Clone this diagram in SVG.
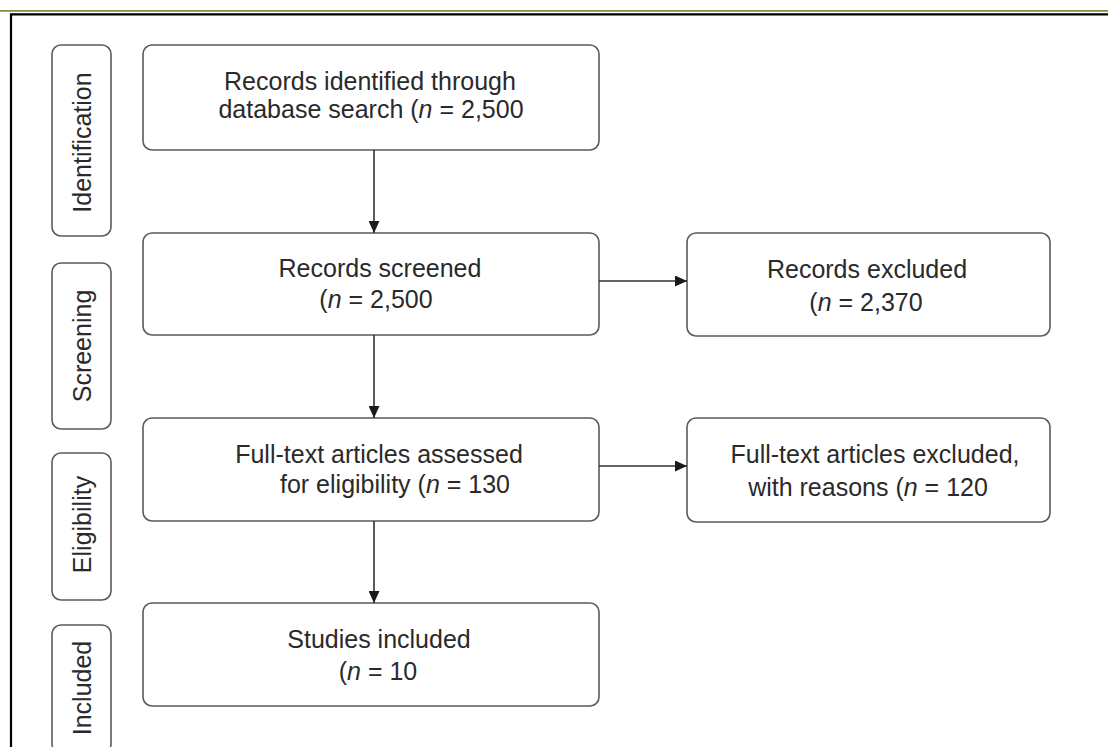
<svg xmlns="http://www.w3.org/2000/svg" width="1108" height="747" viewBox="0 0 1108 747">
<defs>
<style>
.box{fill:#fff;stroke:#5a5a5a;stroke-width:1.6}
.t{font-family:"Liberation Sans",Arial,Helvetica,sans-serif;font-size:25px;fill:#2a2a2a;text-anchor:middle}
.side{font-family:"Liberation Sans",Arial,Helvetica,sans-serif;font-size:25px;fill:#2a2a2a;text-anchor:middle}
.conn{stroke:#333;stroke-width:1.6;fill:none}
</style>
<marker id="ah" markerUnits="userSpaceOnUse" markerWidth="12" markerHeight="11" refX="12" refY="5.5" orient="auto">
<path d="M0,0 L12,5.5 L0,11 z" fill="#1a1a1a"/>
</marker>
</defs>
<rect width="1108" height="747" fill="#fff"/>
<line x1="0" y1="10.8" x2="1108" y2="10.8" stroke="#77933c" stroke-width="1.8"/>
<path d="M11,747 V14.3 H1108" fill="none" stroke="#000" stroke-width="2.2"/>

<g id="phase-identification">
<rect class="box" x="52" y="45" width="59" height="191" rx="9"/>
<text class="side" transform="translate(91,142.5) rotate(-90)">Identification</text>
</g>
<g id="phase-screening">
<rect class="box" x="52" y="263" width="59" height="166" rx="9"/>
<text class="side" transform="translate(91,346) rotate(-90)">Screening</text>
</g>
<g id="phase-eligibility">
<rect class="box" x="52" y="453" width="59" height="147" rx="9"/>
<text class="side" transform="translate(91,524.5) rotate(-90)">Eligibility</text>
</g>
<g id="phase-included">
<rect class="box" x="52" y="625" width="59" height="128" rx="9"/>
<text class="side" transform="translate(91,688) rotate(-90)">Included</text>
</g>

<g id="identified">
<rect class="box" x="143" y="45" width="456" height="105" rx="9"/>
<text class="t" x="370" y="90">Records identified through</text>
<text class="t" x="371" y="118">database search (<tspan font-style="italic">n</tspan> = 2,500</text>
</g>
<g id="screened">
<rect class="box" x="143" y="233" width="456" height="102" rx="9"/>
<text class="t" x="380" y="277">Records screened</text>
<text class="t" x="376" y="308">(<tspan font-style="italic">n</tspan> = 2,500</text>
</g>
<g id="fulltext">
<rect class="box" x="143" y="418" width="456" height="103" rx="9"/>
<text class="t" x="379" y="463">Full-text articles assessed</text>
<text class="t" x="395" y="493">for eligibility (<tspan font-style="italic">n</tspan> = 130</text>
</g>
<g id="included">
<rect class="box" x="143" y="603" width="456" height="103" rx="9"/>
<text class="t" x="379" y="648">Studies included</text>
<text class="t" x="378" y="680">(<tspan font-style="italic">n</tspan> = 10</text>
</g>
<g id="records-excluded">
<rect class="box" x="687" y="233" width="363" height="103" rx="9"/>
<text class="t" x="867" y="278">Records excluded</text>
<text class="t" x="866" y="311">(<tspan font-style="italic">n</tspan> = 2,370</text>
</g>
<g id="fulltext-excluded">
<rect class="box" x="687" y="418" width="363" height="104" rx="9"/>
<text class="t" x="875" y="463">Full-text articles excluded,</text>
<text class="t" x="868" y="496">with reasons (<tspan font-style="italic">n</tspan> = 120</text>
</g>

<g id="connectors">
<line class="conn" x1="374" y1="150" x2="374" y2="233" marker-end="url(#ah)"/>
<line class="conn" x1="374" y1="335" x2="374" y2="418" marker-end="url(#ah)"/>
<line class="conn" x1="374" y1="521" x2="374" y2="603" marker-end="url(#ah)"/>
<line class="conn" x1="599" y1="281" x2="687" y2="281" marker-end="url(#ah)"/>
<line class="conn" x1="599" y1="466" x2="687" y2="466" marker-end="url(#ah)"/>
</g>
</svg>
